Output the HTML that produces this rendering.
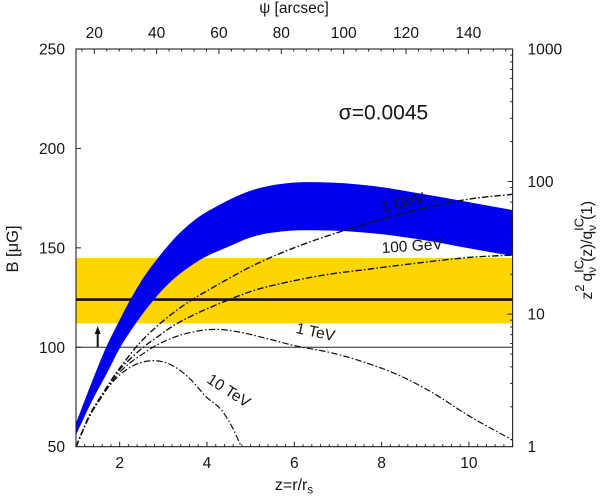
<!DOCTYPE html>
<html>
<head>
<meta charset="utf-8">
<title>B versus z chart</title>
<style>
html,body{margin:0;padding:0;background:#fff;}
svg{display:block;}
text{font-family:"Liberation Sans",sans-serif;fill:#151515;}
</style>
</head>
<body>
<svg id="chart" xmlns="http://www.w3.org/2000/svg" width="600" height="498" viewBox="0 0 600 498">
  <rect x="0" y="0" width="600" height="498" fill="#ffffff"/>
  <g id="bands"></g>
  <g id="series"></g>
  <g id="axes"></g>
  <g id="annotations">
    <text x="383.5" y="119.5" font-size="21" text-anchor="middle">σ=0.0045</text>
    <text font-size="15.5" text-anchor="middle" transform="translate(404,207.5) rotate(-13)">1 GeV</text>
    <text font-size="15.5" text-anchor="middle" transform="translate(412.5,251) rotate(-4)">100 GeV</text>
    <text font-size="15.5" text-anchor="middle" transform="translate(314.5,337) rotate(12)">1 TeV</text>
    <text font-size="15.5" text-anchor="middle" transform="translate(226,395) rotate(33)">10 TeV</text>
    <g>
      <line x1="97.7" y1="347" x2="97.7" y2="332" stroke="#111" stroke-width="2"/>
      <polygon points="97.7,326 94.7,334 100.7,334" fill="#111"/>
    </g>
  </g>
  <g id="axis-titles">
    <text x="294" y="13" font-size="15.5" text-anchor="middle">ψ [arcsec]</text>
    <text x="294" y="490" font-size="16" text-anchor="middle">z=r/r<tspan font-size="11.5" dy="3.5">s</tspan></text>
    <text font-size="16.5" text-anchor="middle" transform="translate(18,249) rotate(-90)">B [μG]</text>
    <text font-size="15.5" transform="translate(592,299.5) rotate(-90)">z<tspan font-size="13" dy="-8">2</tspan><tspan dx="3" dy="8">q</tspan><tspan font-size="12" dy="4">ν</tspan><tspan font-size="13" dx="-6" dy="-12.5">IC</tspan><tspan dx="-2" dy="8.5">(z)/q</tspan><tspan font-size="12" dy="4">ν</tspan><tspan font-size="13" dx="-6" dy="-12.5">IC</tspan><tspan dx="-2" dy="8.5">(1)</tspan></text>
  </g>
</svg>
<script>
var zTicks = [2, 4, 6, 8, 10];
var psiTicks = [20, 40, 60, 80, 100, 120, 140];
var bTicks = [50, 100, 150, 200, 250];
var qTicks = [1, 10, 100, 1000];

var bandZUpper = [1, 1.38, 1.69, 1.92, 2.22, 2.53, 2.87, 3.29, 3.67, 4.3, 5.05, 5.83, 6.59, 7.73, 8.88, 9.95, 11];
var bandBUpper = [61.9, 83.5, 100, 110.3, 123, 134.5, 144.7, 155.6, 163.2, 171.8, 179.1, 182.5, 183, 181.3, 177.3, 173.2, 169];
var bandZLower = [1, 1.34, 1.73, 1.99, 2.37, 2.79, 3.21, 3.6, 3.9, 4.44, 5.05, 5.83, 6.59, 7.73, 8.88, 9.95, 11];
var bandBLower = [55.9, 71.8, 87.9, 99, 112, 124.1, 133.8, 140.5, 144.7, 150.1, 155.6, 158.5, 158.8, 157.5, 154.2, 150, 145.9];

var yellowBandLow = 112;
var yellowBandHigh = 144.9;
var measuredB = 124;
var referenceB = 100;

var z1GeV = [1, 1.305, 1.61, 1.92, 2.145, 2.37, 2.6, 2.91, 3.29, 3.67, 4.21, 5.05, 5.83, 6.59, 7.12, 7.73, 8.49, 9.26, 9.95, 11];
var q1GeV = [1, 1.72, 2.51, 3.6, 4.52, 5.62, 6.76, 8.41, 10.6, 12.9, 16.4, 23.2, 30.1, 37.3, 42.5, 49, 57.5, 66.1, 73.3, 80.2];
var z100GeV = [1, 1.305, 1.61, 1.92, 2.3, 2.58, 2.83, 3.29, 3.67, 4.44, 5.05, 5.83, 6.59, 7.73, 8.88, 10.02, 11];
var q100GeV = [1, 1.7, 2.48, 3.55, 4.79, 5.75, 6.61, 8.41, 9.77, 12.6, 15, 17.4, 19.5, 21.9, 24.4, 26.8, 27.9];
var z1TeV = [1, 1.305, 1.61, 1.92, 2.19, 2.53, 2.72, 3.13, 3.67, 4.05, 4.3, 4.68, 5.44, 5.97, 6.89, 7.67, 8.42, 9.18, 9.96, 11];
var q1TeV = [1, 1.68, 2.43, 3.41, 4.17, 5.01, 5.52, 6.46, 7.33, 7.64, 7.67, 7.38, 6.46, 5.82, 5.07, 4.27, 3.43, 2.54, 1.74, 1.12];
var z10TeV = [1, 1.305, 1.61, 1.92, 2.3, 2.55, 2.83, 3.21, 3.6, 3.98, 4.36, 4.59, 4.78];
var q10TeV = [1, 1.68, 2.455, 3.28, 4.07, 4.37, 4.45, 4.09, 3.28, 2.38, 1.84, 1.38, 1.01];

var NS = 'http://www.w3.org/2000/svg';
var LEFT = 76, RIGHT = 512.6, TOP = 49, BOTTOM = 446.7;

function xZ(z) { return LEFT + (z - 1) * (RIGHT - LEFT) / 10; }
function xPsi(p) { return 94.3 + (p - 20) * 3.117; }
function yB(b) { return BOTTOM - (b - 50) * (BOTTOM - TOP) / 200; }
function yQ(q) { return BOTTOM - Math.log10(q) * (BOTTOM - TOP) / 3; }

function make(tag, parent, attrs) {
  var el = document.createElementNS(NS, tag);
  for (var k in attrs) el.setAttribute(k, attrs[k]);
  parent.appendChild(el);
  return el;
}

// Hermite spline through x-ordered points, using distance-weighted slopes.
function smooth(pts, move) {
  var n = pts.length, m = [], i;
  for (i = 0; i < n; i++) {
    if (i === 0) {
      m[i] = (pts[1][1] - pts[0][1]) / (pts[1][0] - pts[0][0]);
    } else if (i === n - 1) {
      m[i] = (pts[i][1] - pts[i - 1][1]) / (pts[i][0] - pts[i - 1][0]);
    } else {
      var h0 = pts[i][0] - pts[i - 1][0], h1 = pts[i + 1][0] - pts[i][0];
      var s0 = (pts[i][1] - pts[i - 1][1]) / h0, s1 = (pts[i + 1][1] - pts[i][1]) / h1;
      m[i] = (h1 * s0 + h0 * s1) / (h0 + h1);
    }
  }
  var d = (move ? 'M' : 'L') + pts[0][0].toFixed(2) + ',' + pts[0][1].toFixed(2);
  for (i = 0; i < n - 1; i++) {
    var h = (pts[i + 1][0] - pts[i][0]) / 3;
    d += 'C' + (pts[i][0] + h).toFixed(2) + ',' + (pts[i][1] + m[i] * h).toFixed(2) + ' ' +
         (pts[i + 1][0] - h).toFixed(2) + ',' + (pts[i + 1][1] - m[i + 1] * h).toFixed(2) + ' ' +
         pts[i + 1][0].toFixed(2) + ',' + pts[i + 1][1].toFixed(2);
  }
  return d;
}

function toPoints(xs, ys, fy) {
  return xs.map(function (z, i) { return [xZ(z), fy(ys[i])]; });
}

var bands = document.getElementById('bands');
var series = document.getElementById('series');
var axes = document.getElementById('axes');

var yellow = make('rect', bands, { x: LEFT, y: yB(yellowBandHigh), width: RIGHT - LEFT, height: yB(yellowBandLow) - yB(yellowBandHigh), fill: '#ffd500' });



var refLine = make('line', bands, { x1: LEFT, x2: RIGHT, y1: yB(referenceB), y2: yB(referenceB), stroke: '#222', 'stroke-width': 1 });



var thickLine = make('line', bands, { x1: LEFT, x2: RIGHT, y1: yB(measuredB), y2: yB(measuredB), stroke: '#111', 'stroke-width': 2.6 });



var upperPts = toPoints(bandZUpper, bandBUpper, yB);
var lowerPts = toPoints(bandZLower, bandBLower, yB);
var lowerBack = lowerPts.map(function (p) { return [-p[0], p[1]]; }).reverse();
var lowerPath = smooth(lowerBack, false).replace(/(^L|C| )-/g, '$1');
var blue = make('path', bands, { d: smooth(upperPts, true) + lowerPath + 'Z', fill: '#0000ee' });



var curve1 = make('path', series, { d: smooth(toPoints(z1GeV, q1GeV, yQ), true), fill: 'none', stroke: '#111', 'stroke-width': 1.4, 'stroke-dasharray': '6.5 2.2 1.6 2.2' });



var curve2 = make('path', series, { d: smooth(toPoints(z100GeV, q100GeV, yQ), true), fill: 'none', stroke: '#111', 'stroke-width': 1.4, 'stroke-dasharray': '6.5 2.2 1.6 2.2' });



var curve3 = make('path', series, { d: smooth(toPoints(z1TeV, q1TeV, yQ), true), fill: 'none', stroke: '#111', 'stroke-width': 1.2, 'stroke-dasharray': '6.5 2.2 1.6 2.2' });



var curve4 = make('path', series, { d: smooth(toPoints(z10TeV, q10TeV, yQ), true), fill: 'none', stroke: '#111', 'stroke-width': 1.2, 'stroke-dasharray': '6.5 2.2 1.6 2.2' });



var frame = make('rect', axes, { x: LEFT, y: TOP, width: RIGHT - LEFT, height: BOTTOM - TOP, fill: 'none', stroke: '#222', 'stroke-width': 1.1 });



function tick(x1, y1, x2, y2) {
  var t = make('line', axes, { x1: x1, y1: y1, x2: x2, y2: y2, stroke: '#222', 'stroke-width': 1 });
  
  
}

function label(x, y, txt, anchor) {
  var t = make('text', axes, { x: x, y: y, 'font-size': 15.6, 'text-anchor': anchor });
  t.textContent = txt;
  
  
}

var i, v;
for (v = 1.2; v < 11; v += 0.2) {
  var isMajor = Math.abs(v / 2 - Math.round(v / 2)) < 0.01;
  tick(xZ(v), BOTTOM, xZ(v), BOTTOM - (isMajor ? 5 : 2.5));
}
zTicks.forEach(function (z) { label(xZ(z), 468, String(z), 'middle'); });

for (v = 16; v < 154; v += 4) {
  var isMajorPsi = v % 20 === 0;
  tick(xPsi(v), TOP, xPsi(v), TOP + (isMajorPsi ? 5 : 2.5));
}
psiTicks.forEach(function (p) { label(xPsi(p), 38, String(p), 'middle'); });

bTicks.forEach(function (b) {
  if (b > 50 && b < 250) tick(LEFT, yB(b), LEFT + 5, yB(b));
  label(65, yB(b) + 5.5, String(b), 'end');
});

qTicks.forEach(function (q, idx) {
  label(527.5, yQ(q) + 5.5, String(q), 'start');
  if (idx > 0 && idx < 3) tick(RIGHT, yQ(q), RIGHT - 5, yQ(q));
  if (idx < 3) {
    for (i = 2; i < 10; i++) tick(RIGHT, yQ(q * i), RIGHT - 2.5, yQ(q * i));
  }
});
</script>
</body>
</html>
